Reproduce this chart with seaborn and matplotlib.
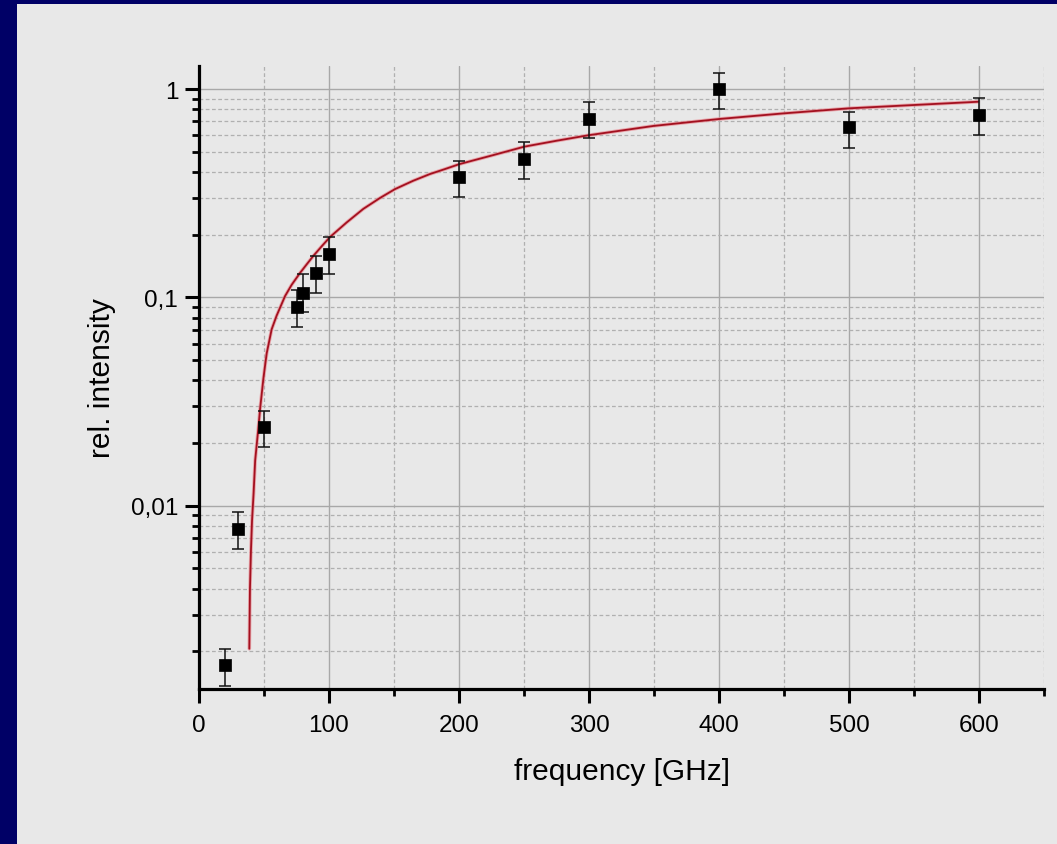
import matplotlib
matplotlib.use("Agg")
import matplotlib.pyplot as plt
from matplotlib.patches import Rectangle
from matplotlib.ticker import LogLocator, MultipleLocator, NullFormatter
import seaborn as sns
import pandas as pd

# Measured relative intensity versus frequency
freq = [20, 30, 50, 75, 80, 90, 100, 200, 250, 300, 400, 500, 600]
intensity = [0.00173, 0.00776, 0.0238, 0.0901, 0.105, 0.131, 0.162, 0.377, 0.460, 0.720, 1.00, 0.655, 0.753]
err_low = [0.00137, 0.00622, 0.0191, 0.0724, 0.0853, 0.105, 0.130, 0.302, 0.370, 0.580, 0.80, 0.519, 0.602]
err_high = [0.00206, 0.00933, 0.0286, 0.109, 0.129, 0.158, 0.194, 0.452, 0.554, 0.865, 1.20, 0.778, 0.902]

# Fitted curve
fit_freq = [38.7, 39.2, 40.0, 40.8, 42.0, 43.2, 45.6, 47.0, 49.5, 50.8, 52.1, 55.9,
            59.7, 66.2, 71.3, 77.7, 82.8, 87.9, 94.4, 100.8, 113.6, 126.4, 139.2,
            150.8, 164.8, 177.7, 189.2, 200.2, 226.4, 250.2, 275.2, 299.5, 349.5,
            400, 449.5, 500, 549.5, 599.5]
fit_int = [0.00206, 0.0040, 0.0062, 0.0085, 0.0115, 0.0165, 0.0234, 0.0292, 0.0406,
           0.0470, 0.0540, 0.0703, 0.0817, 0.1015, 0.115, 0.131, 0.144, 0.158, 0.176,
           0.195, 0.229, 0.266, 0.300, 0.331, 0.363, 0.391, 0.413, 0.436, 0.482,
           0.529, 0.565, 0.600, 0.665, 0.718, 0.764, 0.808, 0.838, 0.869]

ytick_values = [0.01, 0.1, 1]
ytick_labels = ["0,01", "0,1", "1"]
xtick_values = [0, 100, 200, 300, 400, 500, 600]

sns.set_theme(style="white")
plt.rcParams["font.family"] = ["Liberation Sans", "DejaVu Sans"]

W, H = 1057, 845
fig = plt.figure(figsize=(W / 100, H / 100), dpi=100, facecolor="#000066")
fig.patches.append(Rectangle((17 / W, 0), 1 - 17 / W, 1 - 5 / H, transform=fig.transFigure,
                             facecolor="#e8e8e8", edgecolor="none", zorder=-10))

ax = fig.add_axes([199 / W, 1 - 690 / H, (1044 - 199) / W, (690 - 67) / H])
ax.set_zorder(1)
ax.set_facecolor("#e8e8e8")

df = pd.DataFrame({"freq": freq, "intensity": intensity})
fit_df = pd.DataFrame({"freq": fit_freq, "intensity": fit_int})

ax.set_yscale("log")
ax.set_xlim(0, 650)
ax.set_ylim(0.00132, 1.29)

# fitted curve with a soft halo
ax.plot(fit_df["freq"], fit_df["intensity"], color="#e88a92", lw=2.6, alpha=0.7,
        zorder=3, solid_joinstyle="round")
sns.lineplot(data=fit_df, x="freq", y="intensity", sort=False, color="#a3101f",
             lw=1.3, ax=ax, zorder=4)

lower = [v - lo for v, lo in zip(intensity, err_low)]
upper = [hi - v for v, hi in zip(intensity, err_high)]
ax.errorbar(freq, intensity, yerr=[lower, upper], fmt="none", ecolor="#111111",
            elinewidth=1.1, capsize=4.6, capthick=1.1, zorder=5)
sns.scatterplot(data=df, x="freq", y="intensity", marker="s", s=85, color="black",
                edgecolor="black", linewidth=0.5, ax=ax, zorder=6)

# axes styling
for side in ("top", "right"):
    ax.spines[side].set_visible(False)
for side in ("left", "bottom"):
    ax.spines[side].set_color("black")
    ax.spines[side].set_linewidth(2.3)

ax.xaxis.set_minor_locator(MultipleLocator(50))
ax.yaxis.set_minor_locator(LogLocator(base=10, subs=[2, 3, 4, 5, 6, 7, 8, 9], numticks=20))
ax.set_yticks(ytick_values)
ax.set_yticklabels(ytick_labels)
ax.yaxis.set_minor_formatter(NullFormatter())
ax.set_xticks(xtick_values)
ax.set_xticklabels([str(v) for v in xtick_values])

ax.tick_params(which="both", bottom=True, left=True, top=False, right=False)
ax.tick_params(axis="both", which="major", direction="out", length=10, width=2.2,
               color="black", labelsize=17.5, labelcolor="black")
ax.tick_params(axis="both", which="minor", direction="out", length=5, width=2.0, color="black")
ax.tick_params(axis="x", which="major", pad=8)
ax.tick_params(axis="y", which="major", pad=5)

ax.grid(which="major", color="#a8a8a8", lw=1.0, ls="-", zorder=1)
ax.grid(which="minor", color="#b0b0b0", lw=0.9, ls=(0, (3, 2)), zorder=1)
ax.set_axisbelow(True)

ax.set_xlabel("frequency [GHz]", fontsize=21.5, color="black", labelpad=15)
ax.set_ylabel("rel. intensity", fontsize=21.5, color="black", labelpad=10.5)

fig.savefig("out.png", dpi=100, facecolor=fig.get_facecolor())
